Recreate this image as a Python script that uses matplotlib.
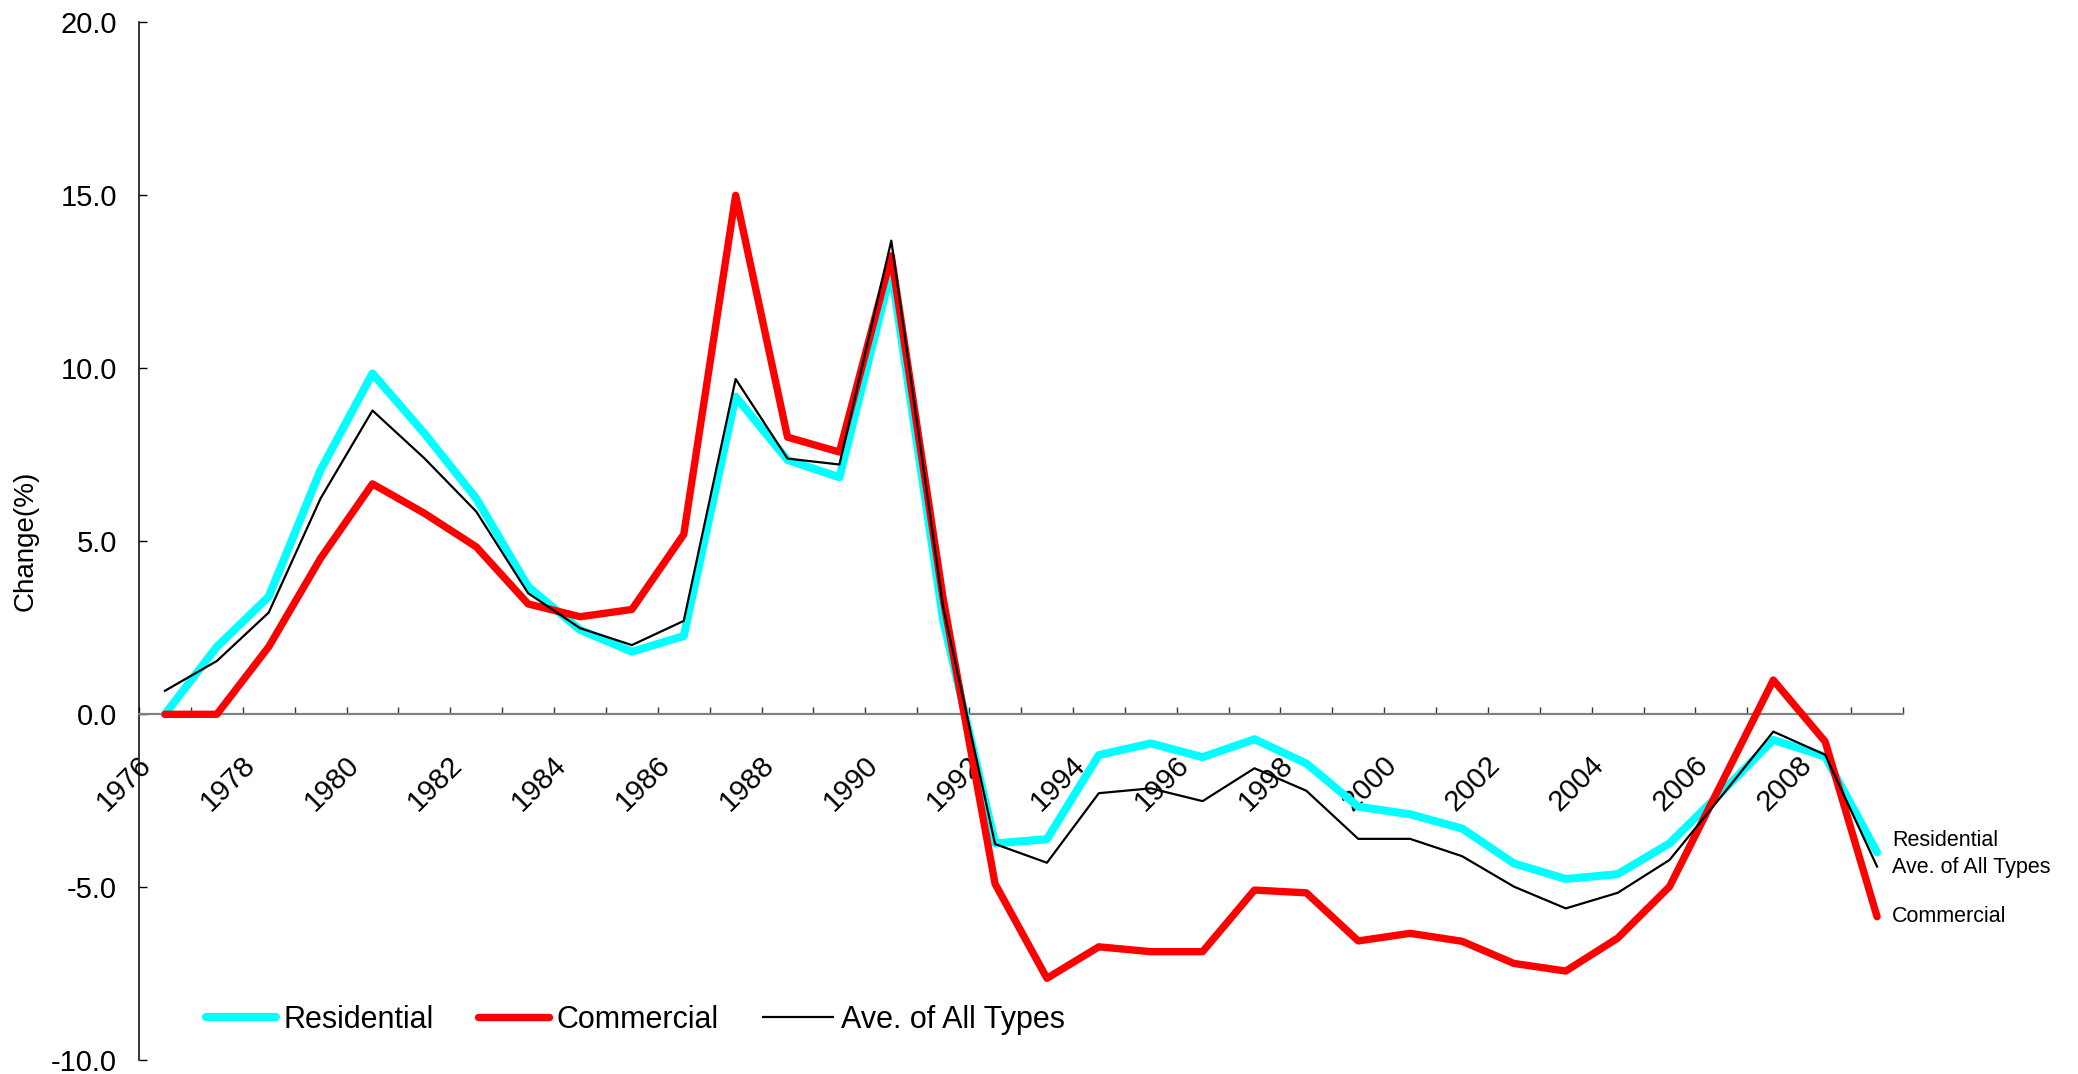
import matplotlib
matplotlib.use("Agg")
import matplotlib.pyplot as plt
import matplotlib.transforms as mtransforms
import numpy as np

plt.rcParams["font.family"] = ["Liberation Sans", "DejaVu Sans"]

# data (annual change, %)
years = list(range(1976, 2010))
residential = [0.0, 1.95, 3.40, 7.06, 9.85, 8.12, 6.24, 3.69, 2.44, 1.81,
               2.26, 9.18, 7.35, 6.85, 12.84, 2.72, -3.73, -3.61, -1.18, -0.84,
               -1.24, -0.72, -1.42, -2.67, -2.89, -3.30, -4.31, -4.76, -4.62, -3.73,
               -2.25, -0.74, -1.22, -3.99]
commercial = [0.0, 0.0, 1.95, 4.51, 6.66, 5.81, 4.84, 3.19, 2.82, 3.03,
              5.20, 15.0, 8.01, 7.58, 13.25, 3.34, -4.90, -7.63, -6.72, -6.86,
              -6.86, -5.08, -5.16, -6.55, -6.33, -6.56, -7.20, -7.42, -6.47, -4.98,
              -2.00, 0.99, -0.79, -5.85]
average = [0.68, 1.54, 2.94, 6.24, 8.78, 7.40, 5.86, 3.50, 2.49, 2.00,
           2.70, 9.69, 7.39, 7.22, 13.69, 3.10, -3.75, -4.29, -2.28, -2.14,
           -2.51, -1.56, -2.21, -3.60, -3.60, -4.10, -4.98, -5.61, -5.16, -4.21,
           -2.37, -0.50, -1.17, -4.40]
series_names = ["Residential", "Commercial", "Ave. of All Types"]
yticks = [-10, -5, 0, 5, 10, 15, 20]

W, H = 2078, 1074
fig = plt.figure(figsize=(W / 100, H / 100), dpi=100)
ax = fig.add_axes([139 / W, 1 - 1060.3 / H, (1903 - 139) / W, (1060.3 - 22.3) / H])

x = np.arange(len(years))
l1, = ax.plot(x, residential, color="#00FFFF", lw=5.8, solid_capstyle="round",
              solid_joinstyle="round", label=series_names[0], zorder=3)
l2, = ax.plot(x, commercial, color="#FF0000", lw=5.3, solid_capstyle="round",
              solid_joinstyle="round", label=series_names[1], zorder=4)
l3, = ax.plot(x, average, color="black", lw=1.6, label=series_names[2], zorder=5)

ax.set_xlim(-0.5, len(years) - 0.5)
ax.set_ylim(-10, 20)

# spines
ax.spines["top"].set_visible(False)
ax.spines["right"].set_visible(False)
ax.spines["left"].set_linewidth(1.1)
ax.spines["bottom"].set_position(("data", 0))
ax.spines["bottom"].set_color("#808080")
ax.spines["bottom"].set_linewidth(1.6)

# y axis
ax.set_yticks(yticks)
ax.set_yticklabels([f"{v:.1f}" for v in yticks])
ax.tick_params(axis="y", direction="in", length=6, width=1, pad=16, labelsize=21)

# x axis: ticks at category boundaries, labels every 2 years
ax.set_xticks(np.arange(len(years) + 1) - 0.5)
ax.set_xticklabels([])
ax.tick_params(axis="x", which="major", direction="in", length=5, width=1, color="#333333")
ax.set_xticks(x[::2], minor=True)
ax.set_xticklabels([str(y) for y in years[::2]], minor=True, rotation=45,
                   ha="right", va="top", fontsize=21)
ax.tick_params(axis="x", which="minor", length=0, pad=26)
offset = mtransforms.ScaledTranslation(-0.08, 0, fig.dpi_scale_trans)
for lab in ax.get_xticklabels(minor=True):
    lab.set_transform(lab.get_transform() + offset)

fig.text(26 / W, 1 - 541 / H, "Change(%)", rotation=90, ha="center", va="center",
         fontsize=20)

# end labels
fig.text(1892 / W, 1 - 841 / H, "Residential", ha="left", va="center", fontsize=15.5)
fig.text(1892 / W, 1 - 867 / H, "Ave. of All Types", ha="left", va="center", fontsize=15.5)
fig.text(1892 / W, 1 - 917 / H, "Commercial", ha="left", va="center", fontsize=15.5)

fig.legend(handles=[l1, l2, l3], loc="center left", bbox_to_anchor=(206 / W, 1 - 1020 / H),
           ncol=3, frameon=False, fontsize=22, handlelength=2.3, handletextpad=0.25,
           columnspacing=1.45, borderpad=0, borderaxespad=0)

fig.savefig("out.png", dpi=100, facecolor="white")
